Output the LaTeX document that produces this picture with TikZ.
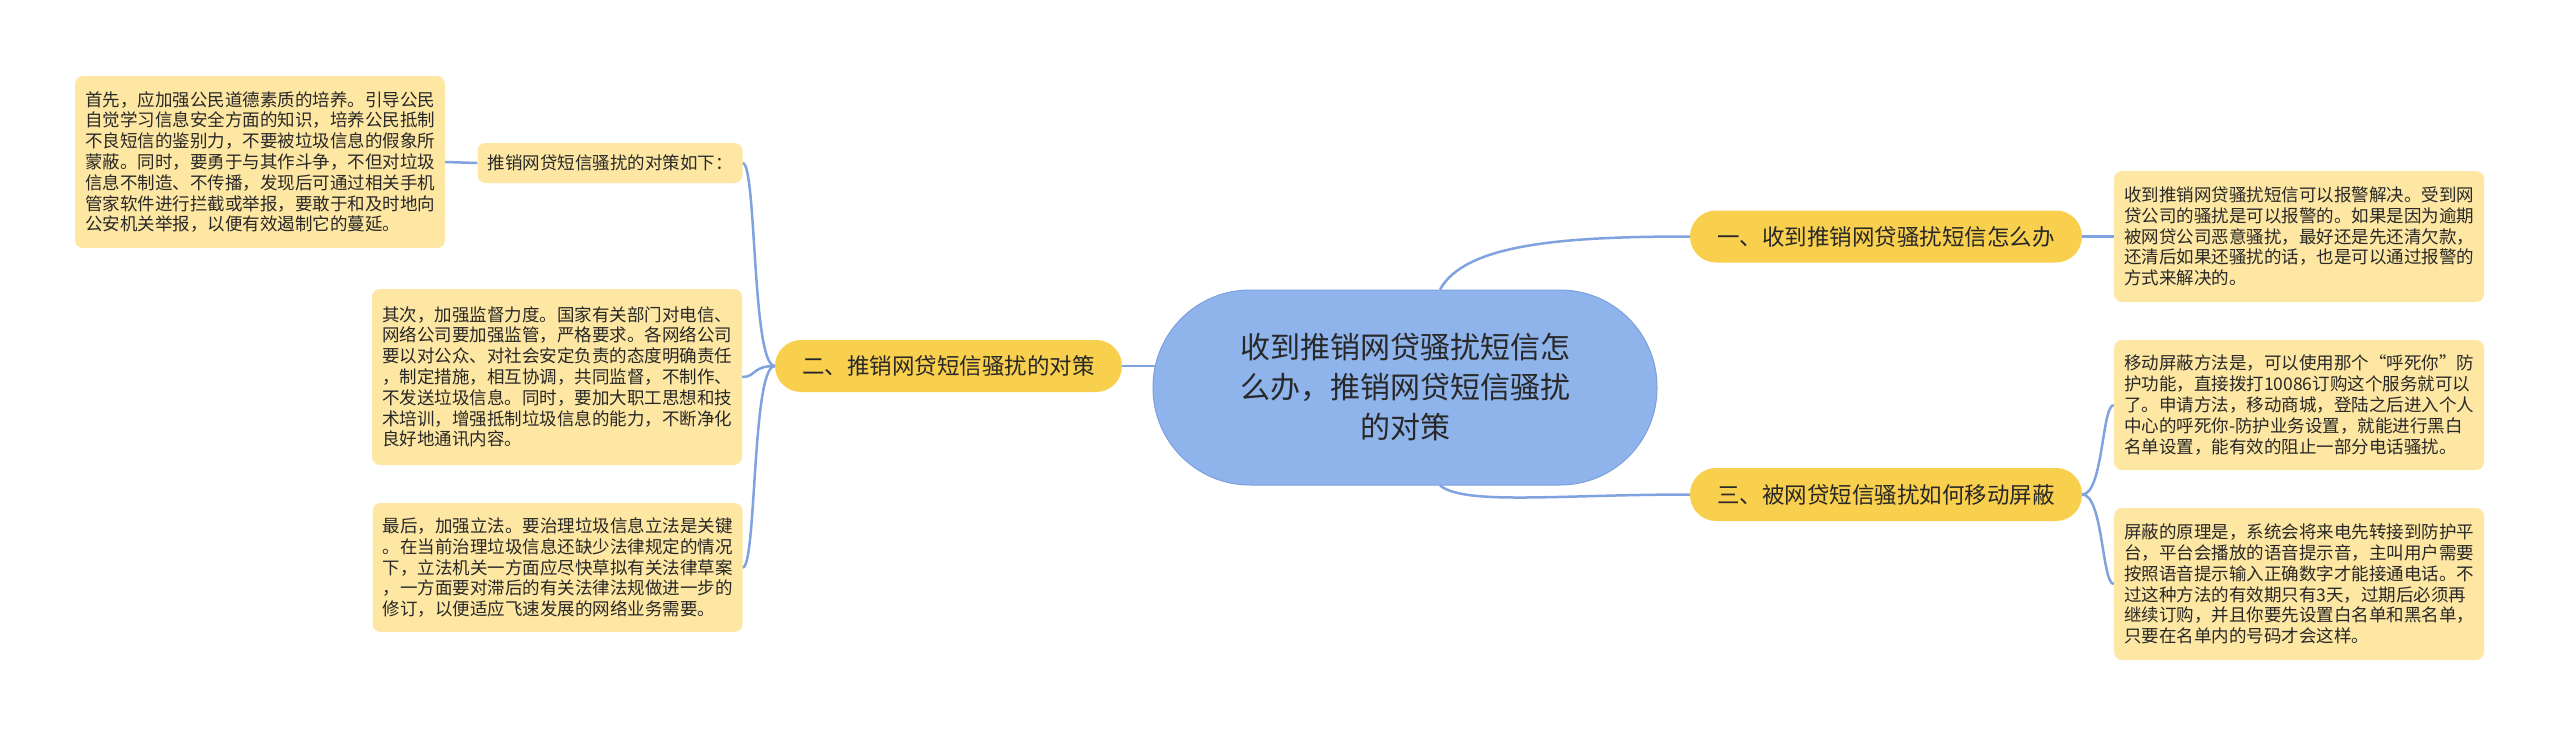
\documentclass[tikz,border=0pt]{standalone}
\usepackage{fontspec}
\setmainfont{Noto Sans CJK SC}
\usetikzlibrary{backgrounds,calc}
\definecolor{leaffill}{RGB}{253,231,163}
\definecolor{brfill}{RGB}{249,207,78}
\definecolor{cfill}{RGB}{143,179,235}
\definecolor{cborder}{RGB}{125,160,222}
\definecolor{linkc}{RGB}{128,162,222}
\definecolor{txt}{RGB}{40,40,40}
\begin{document}
\begin{tikzpicture}[x=1pt,y=-1pt,
  leaf/.style={fill=leaffill, rounded corners=8pt, inner xsep=10pt, inner ysep=0pt,
    align=left, font=\fontsize{17.5}{20.8}\selectfont, text=txt},
  branch/.style={fill=brfill, rounded corners=26pt, inner sep=0pt, align=center,
    font=\fontsize{22.5}{27}\selectfont, text=txt, minimum width=392pt, minimum height=52pt},
  centre/.style={fill=cfill, draw=cborder, line width=1pt, rounded corners=97pt, inner sep=0pt,
    align=center, font=\fontsize{30}{40}\selectfont, text=txt},
  link/.style={draw=linkc, line width=2.5pt}
]
\useasboundingbox (0,0) rectangle (2560,737);

\node[centre, minimum width=504pt, minimum height=195pt] (c) at (1405,387.5)
  {收到推销网贷骚扰短信怎\\么办，推销网贷短信骚扰\\的对策};

\node[branch] (b1) at (1886,236.5) {一、收到推销网贷骚扰短信怎么办};
\node[branch, minimum width=347pt] (b2) at (948.5,366) {二、推销网贷短信骚扰的对策};
\node[branch, minimum height=53pt] (b3) at (1886,494.5) {三、被网贷短信骚扰如何移动屏蔽};

\node[leaf, minimum width=264pt, minimum height=40pt] (l0) at (610,163) {推销网贷短信骚扰的对策如下：};

\node[leaf, minimum width=370pt, minimum height=172pt] (l1) at (260,162) {首先，应加强公民道德素质的培养。引导公民\\自觉学习信息安全方面的知识，培养公民抵制\\不良短信的鉴别力，不要被垃圾信息的假象所\\蒙蔽。同时，要勇于与其作斗争，不但对垃圾\\信息不制造、不传播，发现后可通过相关手机\\管家软件进行拦截或举报，要敢于和及时地向\\公安机关举报，以便有效遏制它的蔓延。};

\node[leaf, minimum width=370pt, minimum height=176pt] (l2) at (557,377) {其次，加强监督力度。国家有关部门对电信、\\网络公司要加强监管，严格要求。各网络公司\\要以对公众、对社会安定负责的态度明确责任\\，制定措施，相互协调，共同监督，不制作、\\不发送垃圾信息。同时，要加大职工思想和技\\术培训，增强抵制垃圾信息的能力，不断净化\\良好地通讯内容。};

\node[leaf, minimum width=369pt, minimum height=129pt] (l3) at (557.5,567.5) {最后，加强立法。要治理垃圾信息立法是关键\\。在当前治理垃圾信息还缺少法律规定的情况\\下，立法机关一方面应尽快草拟有关法律草案\\，一方面要对滞后的有关法律法规做进一步的\\修订，以便适应飞速发展的网络业务需要。};

\node[leaf, minimum width=368pt, minimum height=131pt] (r1) at (2299,236.5) {收到推销网贷骚扰短信可以报警解决。受到网\\贷公司的骚扰是可以报警的。如果是因为逾期\\被网贷公司恶意骚扰，最好还是先还清欠款，\\还清后如果还骚扰的话，也是可以通过报警的\\方式来解决的。};

\node[leaf, minimum width=368pt, minimum height=130pt] (r2) at (2299,405) {移动屏蔽方法是，可以使用那个“呼死你”防\\护功能，直接拨打10086订购这个服务就可以\\了。申请方法，移动商城，登陆之后进入个人\\中心的呼死你-防护业务设置，就能进行黑白\\名单设置，能有效的阻止一部分电话骚扰。};

\node[leaf, minimum width=368pt, minimum height=152pt] (r3) at (2299,584) {屏蔽的原理是，系统会将来电先转接到防护平\\台，平台会播放的语音提示音，主叫用户需要\\按照语音提示输入正确数字才能接通电话。不\\过这种方法的有效期只有3天，过期后必须再\\继续订购，并且你要先设置白名单和黑名单，\\只要在名单内的号码才会这样。};

\begin{pgfonlayer}{background}
  \draw[link] ($(c.north)+(35,0)$) .. controls +(25,-45) and +(-130,0) .. (b1.west);
  \draw[link] ($(c.south)+(35,0)$) .. controls +(25,20) and +(-130,0) .. (b3.west);
  \draw[link] (b2.east) -- (b2.east -| c.center);
  \draw[link] (b1.east) -- (r1.west);
  \draw[link] (b3.east) .. controls +(21,0) and +(-12,0) .. (r2.west);
  \draw[link] (b3.east) .. controls +(21,0) and +(-12,0) .. (r3.west);
  \draw[link] (b2.west) .. controls +(-23,0) and +(14,0) .. (l0.east);
  \draw[link] (b2.west) .. controls +(-23,0) and +(14,0) .. (l2.east);
  \draw[link] (b2.west) .. controls +(-23,0) and +(14,0) .. (l3.east);
  \draw[link] (l0.west) -- (l1.east);
\end{pgfonlayer}
\end{tikzpicture}
\end{document}
